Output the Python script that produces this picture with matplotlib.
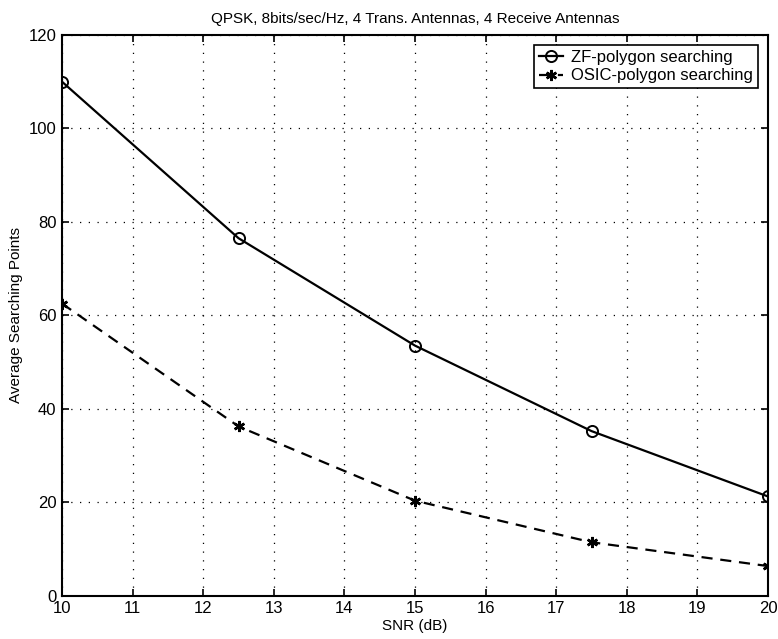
import matplotlib
matplotlib.use("Agg")
from matplotlib import pyplot as plt

snr = [10, 12.5, 15, 17.5, 20]
zf_points = [110.0, 76.5, 53.5, 35.2, 21.2]
osic_points = [62.5, 36.2, 20.3, 11.4, 6.3]

plt.rcParams["font.family"] = ["Liberation Sans", "DejaVu Sans"]

fig = plt.figure(figsize=(7.78, 6.39), dpi=100)
ax = fig.add_axes([62 / 778, 1 - 595.5 / 639, 706 / 778, 560.5 / 639])

ax.plot(snr, zf_points, color="black", linestyle="-", linewidth=1.6,
        marker="o", markersize=8, markerfacecolor="none", markeredgewidth=1.4,
        label="ZF-polygon searching")
ax.plot(snr, osic_points, color="black", linestyle=(0, (5, 3.5)), linewidth=1.6,
        marker=(6, 2, 0), markersize=8, markeredgewidth=1.8,
        label="OSIC-polygon searching")

ax.set_xlim(10, 20)
ax.set_ylim(0, 120)
ax.set_xticks(range(10, 21))
ax.set_yticks(range(0, 121, 20))
ax.grid(True, color="black", linestyle=(0, (1, 6)), linewidth=0.9)
ax.tick_params(direction="in", top=True, right=True, length=5, width=1.2,
               labelsize=12, pad=4)
for s in ax.spines.values():
    s.set_linewidth(1.5)

ax.set_xlabel("SNR (dB)", fontsize=11, labelpad=2)
ax.set_ylabel("Average Searching Points", fontsize=11, labelpad=4)
ax.set_title("QPSK, 8bits/sec/Hz, 4 Trans. Antennas, 4 Receive Antennas",
             fontsize=11, pad=9)

leg = ax.legend(loc="upper right", fontsize=12, frameon=True, fancybox=False,
                edgecolor="black", framealpha=1, handlelength=1.4,
                borderaxespad=0.6, borderpad=0.3, labelspacing=0.2,
                handletextpad=0.5)
leg.get_frame().set_linewidth(1.2)

plt.savefig("out.png", dpi=100)
